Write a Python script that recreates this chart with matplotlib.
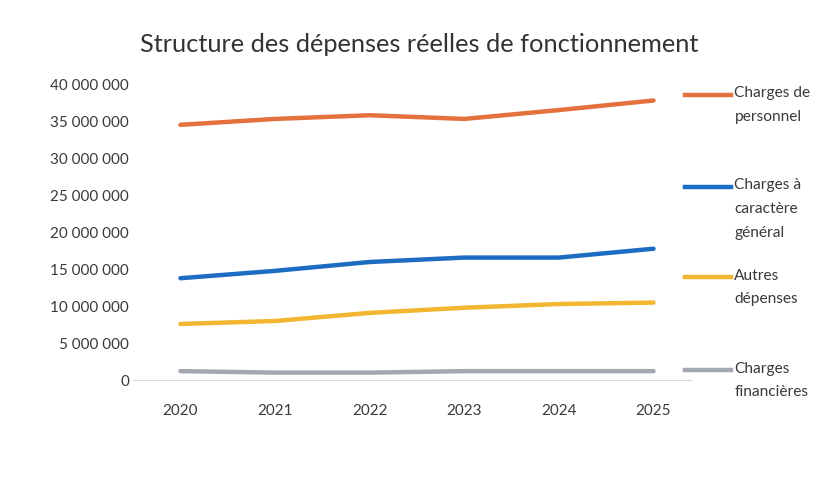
import matplotlib.pyplot as plt
from matplotlib.lines import Line2D
from matplotlib.ticker import FuncFormatter

plt.rcParams['font.family'] = ['Lato', 'DejaVu Sans']

years = ["2020", "2021", "2022", "2023", "2024", "2025"]
personnel = [34.6e6, 35.4e6, 35.9e6, 35.4e6, 36.6e6, 37.9e6]
caractere_general = [13.8e6, 14.8e6, 16.0e6, 16.6e6, 16.6e6, 17.8e6]
autres = [7.6e6, 8.0e6, 9.1e6, 9.8e6, 10.3e6, 10.5e6]
financieres = [1.2e6, 1.0e6, 1.0e6, 1.2e6, 1.2e6, 1.2e6]

series = [
    ("Charges de\npersonnel", personnel, "#E4703D"),
    ("Charges à\ncaractère\ngénéral", caractere_general, "#1C6CC2"),
    ("Autres\ndépenses", autres, "#F2B631"),
    ("Charges\nfinancières", financieres, "#A3A7B2"),
]
legend_y = [0.81, 0.626, 0.446, 0.26]

fig = plt.figure(figsize=(8.27, 5), dpi=100)
ax = fig.add_axes([0.161, 0.24, 0.675, 0.59])

x = range(len(years))
for (label, vals, color), ly in zip(series, legend_y):
    ax.plot(x, vals, color=color, lw=3.2, solid_capstyle='round')
    fig.add_artist(Line2D([0.828, 0.884], [ly, ly], color=color, lw=3.2,
                          transform=fig.transFigure))
    fig.text(0.888, ly + 0.017, label, ha='left', va='top', fontsize=11.2,
             color='#3a3a3a', linespacing=1.9)

ax.set_xlim(-0.5, 5.4)
ax.set_ylim(0, 40e6)
ax.set_yticks(range(0, 40000001, 5000000))
ax.yaxis.set_major_formatter(FuncFormatter(lambda v, p: f"{int(v):,}".replace(",", " ")))
ax.set_xticks(list(x))
ax.set_xticklabels(years)
ax.tick_params(length=0, labelsize=11, colors='#3a3a3a')
ax.tick_params(axis='x', pad=17)
ax.tick_params(axis='y', pad=3)
for side in ['top', 'right', 'left']:
    ax.spines[side].set_visible(False)
ax.spines['bottom'].set_color('#d9d9d9')

fig.text(0.507, 0.91, "Structure des dépenses réelles de fonctionnement",
         ha='center', va='center', fontsize=18.3, color='#333333')

fig.savefig("out.png", dpi=100)
